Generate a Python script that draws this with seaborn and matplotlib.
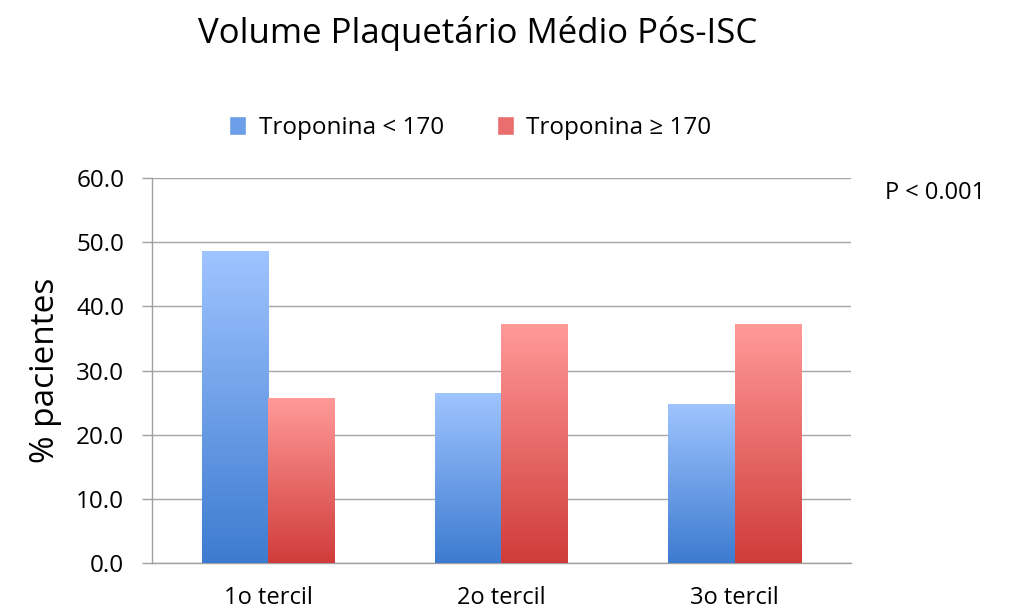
import numpy as np
import pandas as pd
import matplotlib
matplotlib.use('Agg')
import matplotlib.pyplot as plt
import seaborn as sns
from matplotlib.colors import LinearSegmentedColormap
from matplotlib.patches import Patch
from matplotlib.ticker import FormatStrFormatter

# Dados
categorias = ['1o tercil', '2o tercil', '3o tercil']
grupos = ['Troponina < 170', 'Troponina ≥ 170']
trop_baixa = [48.7, 26.5, 24.8]
trop_alta = [25.7, 37.2, 37.2]

df = pd.DataFrame({
    'tercil': categorias * 2,
    'pct': trop_baixa + trop_alta,
    'grupo': [grupos[0]] * 3 + [grupos[1]] * 3,
})

sns.set_style('white')
plt.rcParams['font.family'] = ['Open Sans', 'DejaVu Sans']
plt.rcParams['text.color'] = 'black'
plt.rcParams['xtick.color'] = 'black'
plt.rcParams['ytick.color'] = 'black'
plt.rcParams['axes.labelcolor'] = 'black'

# cores: base / topo do degradê
azul_base, azul_topo = '#3d7bd0', '#9fc4ff'
verm_base, verm_topo = '#d03c3a', '#ff9a99'
azul_mid, verm_mid = '#6c9fe8', '#ea6e6d'

fig = plt.figure(figsize=(10.16, 6.15), dpi=100)
ax = fig.add_axes([0.1496, 0.085, 0.688, 0.625])

sns.barplot(data=df, x='tercil', y='pct', hue='grupo',
            palette=[azul_mid, verm_mid], width=0.57, saturation=1,
            legend=False, ax=ax, zorder=3)

# degradê vertical em cada barra
cmaps = {
    0: LinearSegmentedColormap.from_list('az', [azul_base, azul_topo]),
    1: LinearSegmentedColormap.from_list('vm', [verm_base, verm_topo]),
}
grad = np.linspace(1, 0, 256).reshape(-1, 1)
for i, p in enumerate(list(ax.patches)):
    x, y = p.get_x(), p.get_y()
    w, h = p.get_width(), p.get_height()
    if h <= 0:
        continue
    ax.imshow(grad, cmap=cmaps[i // 3], extent=[x, x + w, y, y + h],
              aspect='auto', origin='upper', zorder=3, interpolation='bicubic')
    p.set_visible(False)

ax.set_xlim(-0.5, 2.5)
ax.set_ylim(0, 60)
ax.set_yticks(np.arange(0, 61, 10))
ax.yaxis.set_major_formatter(FormatStrFormatter('%.1f'))
ax.grid(axis='y', color='#a6a6a6', linewidth=1.0, zorder=0)
ax.set_axisbelow(True)

for s in ['top', 'right']:
    ax.spines[s].set_visible(False)
for s in ['left', 'bottom']:
    ax.spines[s].set_color('#a0a0a0')
    ax.spines[s].set_linewidth(1.0)

ax.set_xticks([-0.5, 0.5, 1.5, 2.5], minor=True)
ax.tick_params(axis='x', which='minor', length=10, color='#a0a0a0', width=1)
ax.tick_params(axis='x', which='major', length=0, pad=17, labelsize=17)
ax.tick_params(axis='y', length=7, color='#a0a0a0', width=1, pad=13, labelsize=17.5,
               left=True)

ax.set_xlabel('')
ax.set_ylabel('% pacientes', fontsize=24, labelpad=10)

fig.text(0.47, 0.945, 'Volume Plaquetário Médio Pós-ISC', ha='center', va='center',
         fontsize=25)
fig.text(0.871, 0.686, 'P < 0.001', ha='left', va='center', fontsize=17)

handles = [Patch(facecolor=azul_mid), Patch(facecolor=verm_mid)]
fig.legend(handles, grupos, loc='center', bbox_to_anchor=(0.463, 0.792), ncol=2,
           frameon=False, fontsize=17.5, handlelength=0.7, handleheight=0.8,
           handletextpad=0.5, columnspacing=2.2)

fig.savefig('out.png', dpi=100)
